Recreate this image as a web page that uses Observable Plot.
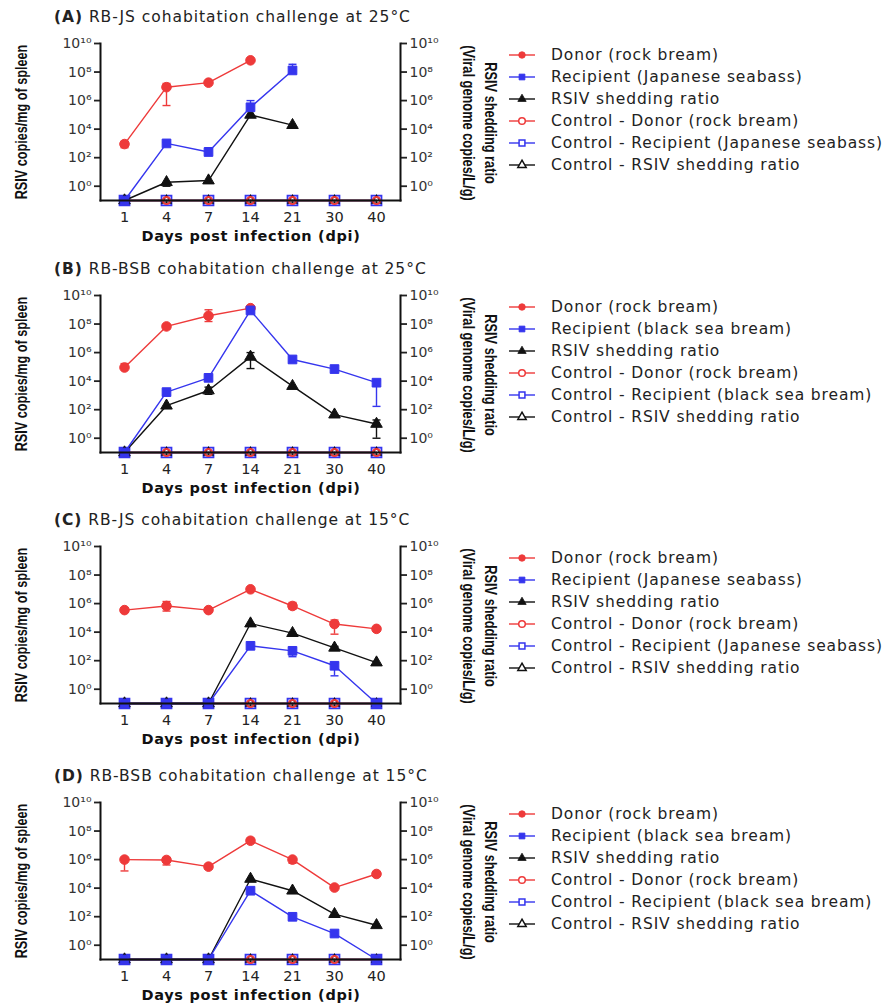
<!DOCTYPE html>
<html>
<head>
<meta charset="utf-8">
<script src="https://cdn.jsdelivr.net/npm/d3@7"></script>
<script src="https://cdn.jsdelivr.net/npm/@observablehq/plot@0.6"></script>
<style>
  body { margin: 0; background: #fff; }
  #fig { position: relative; width: 894px; height: 1008px; font-family: "DejaVu Sans", Verdana, sans-serif; color: #222; }
  .panel { position: absolute; left: 0; width: 894px; height: 250px; }
  .panel svg { position: absolute; left: 0; top: 0; }
  .title { position: absolute; left: 54px; top: 8px; font-size: 15.5px; letter-spacing: 0.95px; white-space: nowrap; }
  .title b { font-weight: bold; }
  .ylab { position: absolute; font-family: "Liberation Sans Narrow", "Arial Narrow", "Liberation Sans", sans-serif; font-weight: bold; font-size: 16px; white-space: nowrap; text-align: center; line-height: 22px; color: #111; }
  .xlab { position: absolute; left: 251px; top: 236px; transform: translate(-50%, -50%); font-weight: bold; font-size: 14.5px; letter-spacing: 0.7px; white-space: nowrap; color: #111; }
  .legend { position: absolute; left: 507px; top: 44px; font-size: 15.5px; letter-spacing: 0.88px; }
  .legend .row { height: 22px; display: flex; align-items: center; white-space: nowrap; }
  .legend svg { position: static; margin-right: 14px; }
</style>
</head>
<body>
<div id="fig"></div>
<script>
// ---------- data ----------
const days = [1, 4, 7, 14, 21, 30, 40];
const ND = 0;              // not detected -> drawn on the axis floor
const FLOOR = 0.1;         // axis minimum (10^-1)
const yTicks = [1, 1e2, 1e4, 1e6, 1e8, 1e10];

const panelLetters = ["(A)", "(B)", "(C)", "(D)"];
const panelTitles = [
  "RB-JS cohabitation challenge at 25°C",
  "RB-BSB cohabitation challenge at 25°C",
  "RB-JS cohabitation challenge at 15°C",
  "RB-BSB cohabitation challenge at 15°C"
];
const recipientNames = ["Japanese seabass", "black sea bream", "Japanese seabass", "black sea bream"];

// Panel A
const donorA   = [9e2, 8.7e6, 1.8e7, 6.6e8, null, null, null];
const donorAhi = [1.4e3, 1.6e7, 2.2e7, null, null, null, null];
const donorAlo = [5e2, 4.5e5, null, null, null, null, null];
const recipA   = [ND, 1e3, 2.5e2, 3.4e5, 1.3e8, null, null];
const recipAhi = [null, 1.2e3, 5e2, 1e6, 3.5e8, null, null];
const recipAlo = [null, null, null, null, null, null, null];
const rsivA    = [ND, 1.9, 2.5, 1e5, 1.9e4, null, null];
const rsivAhi  = [null, null, null, null, null, null, null];
const rsivAlo  = [null, 1.0, null, null, null, null, null];

// Panel B
const donorB   = [9e4, 6.8e7, 3.8e8, 1.3e9, null, null, null];
const donorBhi = [1.7e5, 9e7, 1e9, null, null, null, null];
const donorBlo = [null, 4.5e7, 1.5e8, null, null, null, null];
const recipB   = [ND, 1.7e3, 1.7e4, 9e8, 3.3e5, 7e4, 7.8e3];
const recipBhi = [null, 2.6e3, 2.5e4, null, null, null, 1.1e4];
const recipBlo = [null, 1.1e3, 1.1e4, null, null, null, 1.7e2];
const rsivB    = [ND, 1.9e2, 2.2e3, 5e5, 4.5e3, 45, 10];
const rsivBhi  = [null, null, 3.8e3, 1e6, null, null, 19];
const rsivBlo  = [null, null, 1.2e3, 7.6e4, null, null, 1];

// Panel C
const donorC   = [3.5e5, 6.8e5, 3.5e5, 1e7, 6.8e5, 3.7e4, 1.7e4];
const donorChi = [null, 1.4e6, null, null, 1.2e6, 7e4, 2.2e4];
const donorClo = [null, 3e5, null, null, 4e5, 7.2e3, 1.2e4];
const recipC   = [ND, ND, ND, 1.1e3, 4.9e2, 44, ND];
const recipChi = [null, null, null, null, 8e2, 74, null];
const recipClo = [null, null, null, null, 1.9e2, 8.7, null];
const rsivC    = [ND, ND, ND, 4e4, 8.5e3, 8e2, 74];
const rsivChi  = [null, null, null, null, null, 1e3, null];
const rsivClo  = [null, null, null, null, null, 6e2, null];

// Panel D
const donorD   = [1e6, 9.4e5, 3.2e5, 2.1e7, 1e6, 1.1e4, 9.8e4];
const donorDhi = [1.4e6, 1.2e6, 4.5e5, null, null, null, null];
const donorDlo = [1.6e5, 4.2e5, 2.2e5, null, 5.5e5, null, null];
const recipD   = [ND, ND, ND, 6.6e3, 98, 6.6, ND];
const recipDhi = [null, null, null, null, null, null, null];
const recipDlo = [null, null, null, null, null, null, null];
const rsivD    = [ND, ND, ND, 4.4e4, 6.6e3, 150, 25];
const rsivDhi  = [null, null, null, null, null, null, null];
const rsivDlo  = [null, null, null, null, null, null, null];

// Controls (all panels): not detected at every sampling day
const controlDonor = [ND, ND, ND, ND, ND, ND, ND];
const controlRecip = [ND, ND, ND, ND, ND, ND, ND];
const controlRsiv  = [ND, ND, ND, ND, ND, ND, ND];

const panels = [
  { donor: [donorA, donorAlo, donorAhi], recip: [recipA, recipAlo, recipAhi], rsiv: [rsivA, rsivAlo, rsivAhi] },
  { donor: [donorB, donorBlo, donorBhi], recip: [recipB, recipBlo, recipBhi], rsiv: [rsivB, rsivBlo, rsivBhi] },
  { donor: [donorC, donorClo, donorChi], recip: [recipC, recipClo, recipChi], rsiv: [rsivC, rsivClo, rsivChi] },
  { donor: [donorD, donorDlo, donorDhi], recip: [recipD, recipDlo, recipDhi], rsiv: [rsivD, rsivDlo, rsivDhi] }
];

// ---------- styling ----------
const RED = "#ee3a3a", BLUE = "#3535ee", BLACK = "#111111";
const panelTops = [0, 252, 503, 759];
const supMap = {"0":"⁰","1":"¹","2":"²","3":"³","4":"⁴","5":"⁵","6":"⁶","7":"⁷","8":"⁸","9":"⁹","-":"⁻"};
const fmtPow = d => "10" + String(Math.round(Math.log10(d))).replace(/./g, c => supMap[c]);
const capSymbol = { draw(ctx) { ctx.moveTo(-4, 0); ctx.lineTo(4, 0); } };

function rows(vals, lo, hi) {
  return days.map((day, i) => ({ day, v: vals[i], lo: lo ? lo[i] : null, hi: hi ? hi[i] : null }))
             .filter(d => d.v !== null);
}
const yOf = d => (d.v === ND ? FLOOR : d.v);

function seriesMarks(data, color, symbol, filled, r, sw) {
  const err = data.filter(d => d.lo != null || d.hi != null);
  const ends = [];
  err.forEach(d => { if (d.lo != null) ends.push({ day: d.day, e: d.lo }); if (d.hi != null) ends.push({ day: d.day, e: d.hi }); });
  return [
    Plot.line(data, { x: "day", y: yOf, stroke: color, strokeWidth: 1.4 }),
    Plot.ruleX(err, { x: "day", y1: d => d.lo ?? d.v, y2: d => d.hi ?? d.v, stroke: color, strokeWidth: 1.4 }),
    Plot.dot(ends, { x: "day", y: "e", symbol: capSymbol, stroke: color, strokeWidth: 1.4, r: 4 }),
    Plot.dot(data, { x: "day", y: yOf, symbol, r,
                     fill: filled ? color : "none", stroke: color, strokeWidth: sw })
  ];
}

const fig = document.getElementById("fig");

panels.forEach((p, k) => {
  const div = document.createElement("div");
  div.className = "panel";
  div.style.top = panelTops[k] + "px";

  const chart = Plot.plot({
    width: 470, height: 250,
    marginLeft: 100, marginRight: 70, marginTop: 43, marginBottom: 50,
    style: { fontFamily: "DejaVu Sans, Verdana, sans-serif", fontSize: "13px", color: "#222", background: "transparent" },
    x: { type: "point", domain: days, padding: 0.5 },
    y: { type: "log", domain: [FLOOR, 1e10] },
    marks: [
      Plot.axisY({ anchor: "left", ticks: yTicks, tickFormat: fmtPow, tickSize: 6, tickPadding: 3, label: null, strokeWidth: 1.8, fontSize: 14, fill: "#333" }),
      Plot.axisY({ anchor: "right", ticks: yTicks, tickFormat: fmtPow, tickSize: 6, tickPadding: 3, label: null, strokeWidth: 1.8, fontSize: 14, fill: "#333" }),
      Plot.axisX({ anchor: "bottom", tickSize: 4, tickPadding: 7, label: null, strokeWidth: 1.5, fontSize: 14.5, fill: "#222" }),
      // controls
      ...seriesMarks(rows(controlRecip), BLUE, "square", false, 5.6, 1.8),
      ...seriesMarks(rows(controlRsiv), BLACK, "triangle", false, 3.4, 1.3),
      ...seriesMarks(rows(controlDonor), RED, "circle", false, 3.6, 2),
      // infected groups
      ...seriesMarks(rows(...p.donor), RED, "circle", true, 4.8, 1),
      ...seriesMarks(rows(...p.rsiv), BLACK, "triangle", true, 4.3, 1),
      ...seriesMarks(rows(...p.recip), BLUE, "square", true, 4.9, 1),
      Plot.frame({ anchor: "left", stroke: "#111", strokeWidth: 2 }),
      Plot.frame({ anchor: "right", stroke: "#111", strokeWidth: 2 }),
      Plot.frame({ anchor: "bottom", stroke: "#111", strokeWidth: 2 })
    ]
  });
  div.appendChild(chart);

  const t = document.createElement("div");
  t.className = "title";
  t.innerHTML = `<b>${panelLetters[k]}</b> ${panelTitles[k]}`;
  div.appendChild(t);

  const yl = document.createElement("div");
  yl.className = "ylab";
  yl.textContent = "RSIV copies/mg of spleen";
  yl.style.left = "22px"; yl.style.top = "122px";
  yl.style.transform = "translate(-50%, -50%) rotate(-90deg) scaleX(0.79)";
  div.appendChild(yl);

  const yr = document.createElement("div");
  yr.className = "ylab";
  yr.innerHTML = "RSIV shedding ratio<br>(Viral genome copies/L/g)";
  yr.style.left = "479px"; yr.style.top = "123px";
  yr.style.transform = "translate(-50%, -50%) rotate(90deg) scaleX(0.8)";
  div.appendChild(yr);

  const xl = document.createElement("div");
  xl.className = "xlab";
  xl.textContent = "Days post infection (dpi)";
  div.appendChild(xl);

  const legendItems = [
    ["Donor (rock bream)", RED, "circle", true],
    [`Recipient (${recipientNames[k]})`, BLUE, "square", true],
    ["RSIV shedding ratio", BLACK, "triangle", true],
    ["Control - Donor (rock bream)", RED, "circle", false],
    [`Control - Recipient (${recipientNames[k]})`, BLUE, "square", false],
    ["Control - RSIV shedding ratio", BLACK, "triangle", false]
  ];
  const lg = document.createElement("div");
  lg.className = "legend";
  legendItems.forEach(([label, color, sym, filled]) => {
    const row = document.createElement("div");
    row.className = "row";
    const s = d3.create("svg").attr("width", 30).attr("height", 14);
    s.append("line").attr("x1", 2).attr("x2", 28).attr("y1", 7).attr("y2", 7).attr("stroke", color).attr("stroke-width", 1.4);
    const symType = sym === "circle" ? d3.symbolCircle : sym === "square" ? d3.symbolSquare : d3.symbolTriangle;
    s.append("path").attr("transform", "translate(15,7)")
      .attr("d", d3.symbol(symType, sym === "triangle" ? 30 : 34)())
      .attr("fill", filled ? color : "#fff").attr("stroke", color).attr("stroke-width", filled ? 0.8 : 1.5);
    row.appendChild(s.node());
    const span = document.createElement("span");
    span.textContent = label;
    row.appendChild(span);
    lg.appendChild(row);
  });
  div.appendChild(lg);

  fig.appendChild(div);
});
</script>
</body>
</html>
